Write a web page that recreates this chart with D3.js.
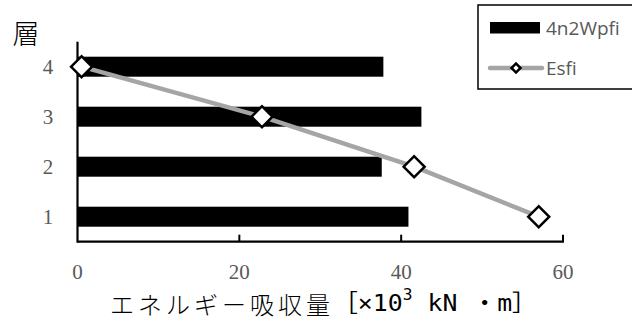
<!DOCTYPE html>
<html><head><meta charset="utf-8">
<script src="https://cdn.jsdelivr.net/npm/d3@7"></script>
<style>body{margin:0;background:#fff}svg{display:block}</style>
</head><body>
<svg id="c" width="632" height="323"></svg>
<script>
const floors = ["4", "3", "2", "1"];
const wpfi = [37.8, 42.5, 37.6, 40.9];
const esfi = [0.5, 22.8, 41.6, 57.0];
const xTicks = [0, 20, 40, 60];
const seriesNames = ["4n2Wpfi", "Esfi"];

const svg = d3.select("#c");
const L = 77.5, R = 563, T = 41.7, B = 241.7;
const x = d3.scaleLinear().domain([0, 60]).range([L, R]);
const y = d3.scaleBand().domain(floors).range([T, B]).paddingInner(0.6).paddingOuter(0.3);
const yc = d => y(d) + y.bandwidth() / 2;

// bars
svg.append("g").selectAll("rect").data(floors).join("rect")
  .attr("x", x(0)).attr("y", d => y(d))
  .attr("width", (d, i) => x(wpfi[i]) - x(0))
  .attr("height", y.bandwidth()).attr("fill", "#000");

// axes
const ax = svg.append("g");
ax.append("line").attr("x1", L).attr("x2", L).attr("y1", T).attr("y2", B + 1)
  .attr("stroke", "#000").attr("stroke-width", 2.2);
ax.append("line").attr("x1", L).attr("x2", R + 1).attr("y1", B).attr("y2", B)
  .attr("stroke", "#000").attr("stroke-width", 2.2);
ax.selectAll(".tk").data(xTicks.slice(1)).join("line")
  .attr("x1", d => x(d)).attr("x2", d => x(d)).attr("y1", B).attr("y2", B - 7)
  .attr("stroke", "#000").attr("stroke-width", 2);

// tick labels
svg.append("g").selectAll("text").data(xTicks).join("text")
  .attr("x", d => x(d)).attr("y", 272).attr("text-anchor", "middle")
  .attr("dominant-baseline", "central")
  .attr("font-family", "Liberation Serif, serif").attr("font-size", 21).attr("fill", "#595959")
  .text(d => d);
svg.append("g").selectAll("text").data(floors).join("text")
  .attr("x", 48).attr("y", d => yc(d)).attr("text-anchor", "middle")
  .attr("dominant-baseline", "central")
  .attr("font-family", "Liberation Serif, serif").attr("font-size", 21).attr("fill", "#595959")
  .text(d => d);

// y title
svg.append("text").attr("x", 26).attr("y", 32).attr("text-anchor", "middle")
  .attr("dominant-baseline", "central")
  .attr("font-family", "Noto Sans CJK JP").attr("font-weight", 300).attr("font-size", 27).attr("fill", "#000")
  .text("層");

// x title
svg.append("text").attr("x", 110).attr("y", 303)
  .attr("dominant-baseline", "central").attr("font-size", 24).attr("fill", "#000")
  .attr("font-family", "Noto Sans CJK JP").attr("font-weight", 300)
  .attr("textLength", 220).attr("lengthAdjust", "spacing")
  .text("エネルギー吸収量");
const xt = svg.append("text").attr("x", 333).attr("y", 303)
  .attr("dominant-baseline", "central").attr("fill", "#000")
  .attr("font-family", "DejaVu Sans Mono, Noto Sans CJK JP");
xt.append("tspan").attr("font-size", 23).text("［×10");
xt.append("tspan").attr("font-size", 15).attr("dy", -8).text("3");
xt.append("tspan").attr("font-size", 23).attr("dy", 8).text(" kN ・m］");
// fit bracket part to reference width
const bw = xt.node().getComputedTextLength();
xt.attr("transform", `translate(333,0) scale(${204 / bw},1) translate(-333,0)`);

// line series
const line = d3.line().x(d => x(d[0])).y(d => yc(d[1]));
const pts = floors.map((f, i) => [esfi[i], f]);
svg.append("path").datum(pts).attr("d", line).attr("fill", "none")
  .attr("stroke", "#A5A5A5").attr("stroke-width", 4.5);
const diamond = d3.symbol().type(d3.symbolSquare).size(220);
svg.append("g").selectAll("path").data(pts).join("path")
  .attr("d", diamond)
  .attr("transform", d => `translate(${x(d[0])},${yc(d[1])}) rotate(45)`)
  .attr("fill", "#fff").attr("stroke", "#000").attr("stroke-width", 2.5);

// legend
const lg = svg.append("g");
lg.append("rect").attr("x", 478).attr("y", 5).attr("width", 170).attr("height", 84)
  .attr("fill", "#fff").attr("stroke", "#000").attr("stroke-width", 1.5);
lg.append("rect").attr("x", 490).attr("y", 22).attr("width", 50).attr("height", 11.5).attr("fill", "#000");
lg.append("line").attr("x1", 490).attr("x2", 542).attr("y1", 68).attr("y2", 68)
  .attr("stroke", "#A5A5A5").attr("stroke-width", 4.5).attr("stroke-linecap", "round");
lg.append("path").attr("d", d3.symbol().type(d3.symbolSquare).size(40))
  .attr("transform", "translate(516,68) rotate(45)")
  .attr("fill", "#fff").attr("stroke", "#000").attr("stroke-width", 2.5);
lg.selectAll("text").data(seriesNames).join("text")
  .attr("x", 546).attr("y", (d, i) => i === 0 ? 28 : 68)
  .attr("dominant-baseline", "central")
  .attr("font-family", "Open Sans, sans-serif").attr("font-size", 19).attr("fill", "#595959")
  .text(d => d);
</script>
</body></html>
